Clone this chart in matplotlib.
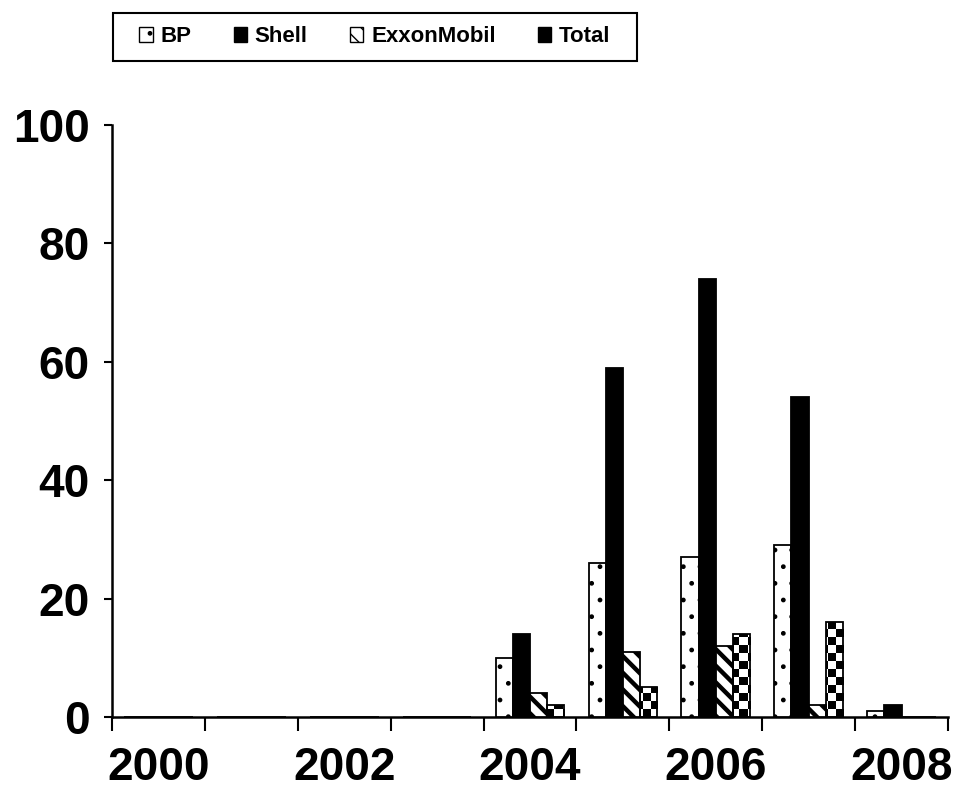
import numpy as np
import matplotlib
matplotlib.use("Agg")
import matplotlib.pyplot as plt
from matplotlib.patches import Patch
from matplotlib.path import Path

plt.rcParams["font.family"] = ["Liberation Sans", "DejaVu Sans"]
plt.rcParams["font.weight"] = "bold"

years = ["2000", "2001", "2002", "2003", "2004", "2005", "2006", "2007", "2008"]
bp = [0, 0, 0, 0, 10, 26, 27, 29, 1]
shell = [0, 0, 0, 0, 14, 59, 74, 54, 2]
exxon = [0, 0, 0, 0, 4, 11, 12, 2, 0]
total = [0, 0, 0, 0, 2, 5, 14, 16, 0]
names = ["BP", "Shell", "ExxonMobil", "Total"]


def wide_square(x0, y0, width, height, mutation_size):
    # square legend frame with extra room left and right only
    p = 0.6 * mutation_size
    x1, y1 = x0 + width + p, y0 + height
    x0 = x0 - p
    return Path([(x0, y0), (x1, y0), (x1, y1), (x0, y1), (x0, y0)], closed=True)


fig = plt.figure(figsize=(9.6, 7.92), dpi=100)
ax = fig.add_axes([112 / 960, 1 - 717 / 792, 836 / 960, 592 / 792])

x = np.arange(len(years))
w = 0.185
edge = dict(edgecolor="black", linewidth=1.3)

b_bp = ax.bar(x - 1.5 * w, bp, w, facecolor="white", hatch=".", zorder=3, **edge)
b_sh = ax.bar(x - 0.5 * w, shell, w, facecolor="black", zorder=3, **edge)
b_ex = ax.bar(x + 0.5 * w, exxon, w, facecolor="white", hatch="\\\\", zorder=3, **edge)
b_to = ax.bar(x + 1.5 * w, total, w, facecolor="none", zorder=3, **edge)

for b in b_ex:
    if hasattr(b, "set_hatch_linewidth"):
        b.set_hatch_linewidth(3.2)

# checkerboard fill for Total, clipped to each bar (about 8 px cells)
ny, nx = 74, 104
checker = (np.add.outer(np.arange(ny), np.arange(nx)) % 2).astype(float)
for b in b_to:
    if b.get_height() <= 0:
        continue
    im = ax.imshow(checker, cmap="gray", extent=(-0.5, 8.5, 0, 100),
                   origin="lower", aspect="auto", interpolation="nearest",
                   zorder=2.5)
    im.set_clip_path(b)

ax.set_xlim(-0.5, 8.5)
ax.set_ylim(0, 100)
ax.set_yticks([0, 20, 40, 60, 80, 100])
ax.tick_params(axis="y", labelsize=33, length=6, width=1.5, pad=10)

ax.set_xticks(np.arange(-0.5, 9, 1.0))
ax.set_xticklabels([])
ax.set_xticks(x[::2], minor=True)
ax.set_xticklabels(years[::2], minor=True)
ax.tick_params(axis="x", which="major", length=10, width=1.5)
ax.tick_params(axis="x", which="minor", length=0, labelsize=33, pad=21)

for s in ("top", "right"):
    ax.spines[s].set_visible(False)
for s in ("left", "bottom"):
    ax.spines[s].set_linewidth(1.8)

handles = [
    Patch(facecolor="white", edgecolor="black", hatch="."),
    Patch(facecolor="black", edgecolor="black"),
    Patch(facecolor="white", edgecolor="black", hatch="\\\\"),
    Patch(facecolor="black", edgecolor="black", hatch="++"),
]
leg = fig.legend(handles, names, loc="upper left",
                 bbox_to_anchor=(126 / 960, 1 - 13 / 792), ncol=4,
                 frameon=True, fancybox=False, framealpha=1,
                 edgecolor="black", borderaxespad=0,
                 handlelength=0.6, handleheight=0.6, handletextpad=0.35,
                 columnspacing=1.9, borderpad=0.6,
                 prop=dict(size=16, weight="bold"))
leg.get_frame().set_linewidth(1.5)
leg.get_frame().set_boxstyle(wide_square)

fig.savefig("out.png", dpi=100)
